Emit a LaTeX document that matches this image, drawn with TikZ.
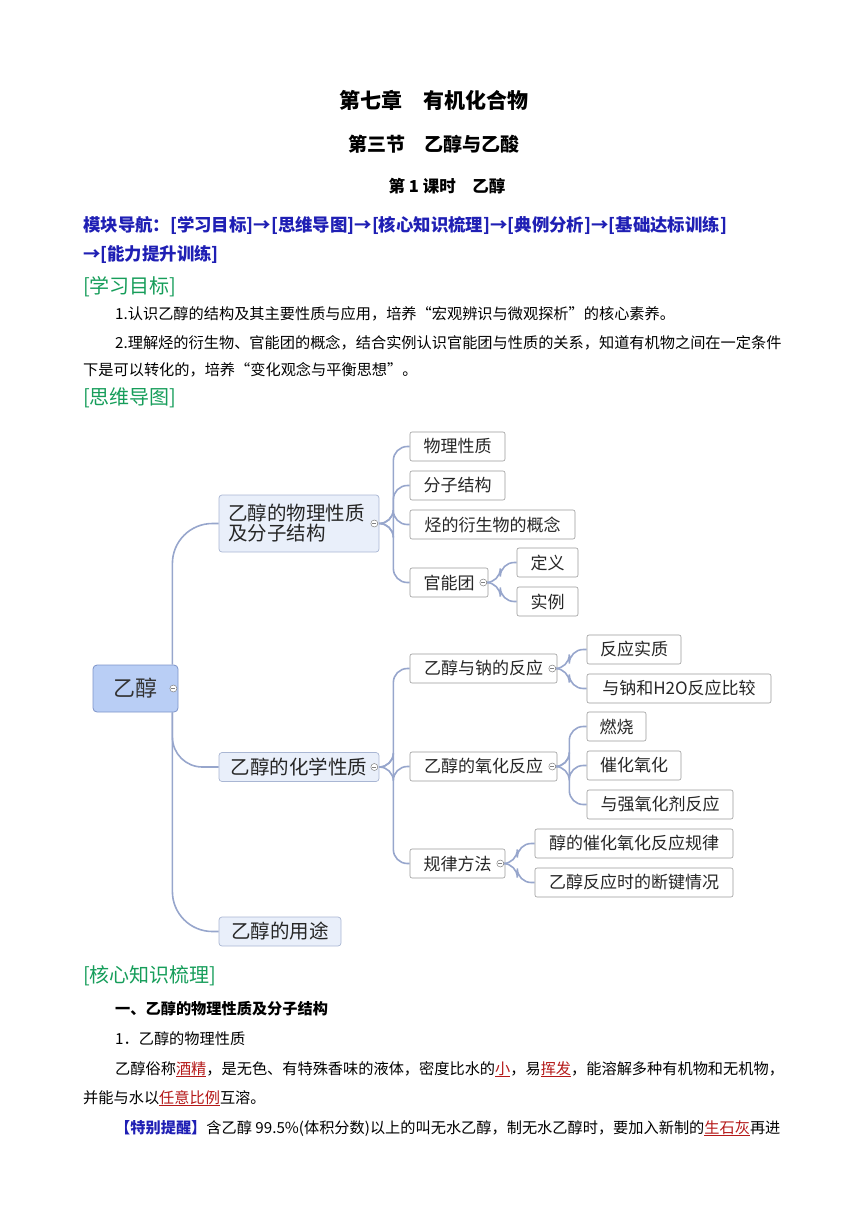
\documentclass[tikz,border=0pt]{standalone}
\usepackage{fontspec}
\setmainfont{Noto Sans CJK SC}
\usetikzlibrary{calc}
\definecolor{navblue}{HTML}{1F1FB4}
\definecolor{secgreen}{HTML}{169D5A}
\definecolor{linec}{HTML}{97A6CC}
\definecolor{rootf}{HTML}{B9CEF5}
\definecolor{rootd}{HTML}{7C93C8}
\definecolor{l1f}{HTML}{E9EFFA}
\definecolor{l1d}{HTML}{A9B6D3}
\definecolor{boxd}{HTML}{9A9A9A}
\definecolor{redu}{HTML}{B41818}
\begin{document}
\begin{tikzpicture}[x=1pt,y=-1pt,
  txt/.style={anchor=base west,inner sep=0pt,font=\fontsize{15.2}{16}\selectfont},
  root/.style={draw=rootd,fill=rootf,rounded corners=4pt,line width=0.8pt,minimum height=47,minimum width=85,inner sep=0pt,font=\fontsize{22}{24}\selectfont,text=black!80},
  l1/.style={draw=l1d,fill=l1f,rounded corners=3pt,line width=0.7pt,minimum height=29,inner sep=0pt,font=\fontsize{19.5}{23}\selectfont,align=left,text=black!85},
  l2/.style={draw=boxd,fill=white,rounded corners=2pt,line width=0.6pt,minimum height=29,inner sep=0pt,font=\fontsize{17}{20}\selectfont,text=black!85},
  conn/.style={draw=linec,line width=1.6pt,rounded corners=14pt},
  knob/.style={circle,draw=black!50,fill=white,line width=0.5pt,inner sep=0pt,minimum size=7},
  sec/.style={txt,font=\fontsize{20}{22}\selectfont,text=secgreen},
  nav/.style={txt,font=\bfseries\fontsize{17.4}{18}\selectfont,text=navblue}
]
\useasboundingbox (0,0) rectangle (868,1227);
% titles
\node[font=\bfseries\fontsize{21}{24}\selectfont] (t1) at (434,100) {第七章\hspace{1em}有机化合物};
\node[font=\bfseries\fontsize{19}{22}\selectfont] (t2) at (434,144) {第三节\hspace{1em}乙醇与乙酸};
\node[font=\bfseries\fontsize{16.5}{20}\selectfont] (t3) at (447,186) {第 1 课时\hspace{1em}乙醇};
\node[nav] (nav1) at (83,231) {模块导航：[学习目标]→[思维导图]→[核心知识梳理]→[典例分析]→[基础达标训练]};
\node[nav] (nav2) at (83,260) {→[能力提升训练]};
\node[sec] (s1) at (83,293) {[学习目标]};
\node[txt] (p1) at (115,319) {1.认识乙醇的结构及其主要性质与应用，培养“宏观辨识与微观探析”的核心素养。};
\node[txt] (p2) at (115,348) {2.理解烃的衍生物、官能团的概念，结合实例认识官能团与性质的关系，知道有机物之间在一定条件};
\node[txt] (p3) at (83,375) {下是可以转化的，培养“变化观念与平衡思想”。};
\node[sec] (s2) at (83,404) {[思维导图]};
% mind map nodes
\node[root] (r) at (135.5,688.5) {乙醇};
\node[l1,minimum width=160,minimum height=57,text width=142] (a) at (299,523.5) {乙醇的物理性质\\[-3pt]及分子结构};
\node[l1,minimum width=160] (b) at (299,767) {乙醇的化学性质};
\node[l1,minimum width=122] (c) at (280,931.5) {乙醇的用途};
\node[l2,minimum width=95] (a1) at (457.5,446.5) {物理性质};
\node[l2,minimum width=95] (a2) at (457.5,485.5) {分子结构};
\node[l2,minimum width=165] (a3) at (492.5,524.5) {烃的衍生物的概念};
\node[l2,minimum width=78] (a4) at (449,582.5) {官能团};
\node[l2,minimum width=61] (a41) at (547.5,562.5) {定义};
\node[l2,minimum width=61] (a42) at (547.5,601.5) {实例};
\node[l2,minimum width=147] (b1) at (483.5,668.5) {乙醇与钠的反应};
\node[l2,minimum width=94] (b11) at (634,649.5) {反应实质};
\node[l2,minimum width=184] (b12) at (679,688.5) {与钠和H2O反应比较};
\node[l2,minimum width=147] (b2) at (483.5,766.5) {乙醇的氧化反应};
\node[l2,minimum width=59] (b21) at (616.5,726.5) {燃烧};
\node[l2,minimum width=94] (b22) at (634,765.5) {催化氧化};
\node[l2,minimum width=146] (b23) at (660,804.5) {与强氧化剂反应};
\node[l2,minimum width=95] (b3) at (457.5,863.5) {规律方法};
\node[l2,minimum width=198] (b31) at (634,843.5) {醇的催化氧化反应规律};
\node[l2,minimum width=198] (b32) at (634,882.5) {乙醇反应时的断键情况};
% connectors
\draw[conn,rounded corners=40pt] ([xshift=-6]r.north east) |- (a.west);
\draw[conn,rounded corners=30pt] ([xshift=-6]r.south east) |- (b.west);
\draw[conn,rounded corners=40pt] ([xshift=-6]r.south east) |- (c.west);
\foreach \p/\c in {a/a1,a/a2,a/a3,a/a4,b/b1,b/b2,b/b3}{
  \draw[conn] (\p.east) -- ++(14,0) |- (\c.west);}
\foreach \p/\c in {a4/a41,a4/a42,b1/b11,b1/b12,b2/b21,b2/b22,b2/b23,b3/b31,b3/b32}{
  \draw[conn] (\p.east) -- ++(12,0) |- (\c.west);}
\foreach \n in {r,a,b,a4,b1,b2,b3}{
  \node[knob] (k\n) at ([xshift=-5]\n.east) {};
  \draw[black!50,line width=0.6pt] ([xshift=-2]k\n.center) -- ([xshift=2]k\n.center);}
% bottom text
\node[sec] (s3) at (83,982) {[核心知识梳理]};
\node[txt,font=\bfseries\fontsize{15.2}{16}\selectfont] (h1) at (115,1014) {一、乙醇的物理性质及分子结构};
\node[txt] (h2) at (115,1044) {1．乙醇的物理性质};
\node[txt] (q1) at (115,1074) {乙醇俗称\textcolor{redu}{\underline{酒精}}，是无色、有特殊香味的液体，密度比水的\textcolor{redu}{\underline{小}}，易\textcolor{redu}{\underline{挥发}}，能溶解多种有机物和无机物，};
\node[txt] (q2) at (83,1103) {并能与水以\textcolor{redu}{\underline{任意比例}}互溶。};
\node[txt] (q3) at (115,1133) {\textcolor{navblue}{\bfseries 【特别提醒】}含乙醇 99.5\%(体积分数)以上的叫无水乙醇，制无水乙醇时，要加入新制的\textcolor{redu}{\underline{生石灰}}再进};
\end{tikzpicture}
\end{document}
